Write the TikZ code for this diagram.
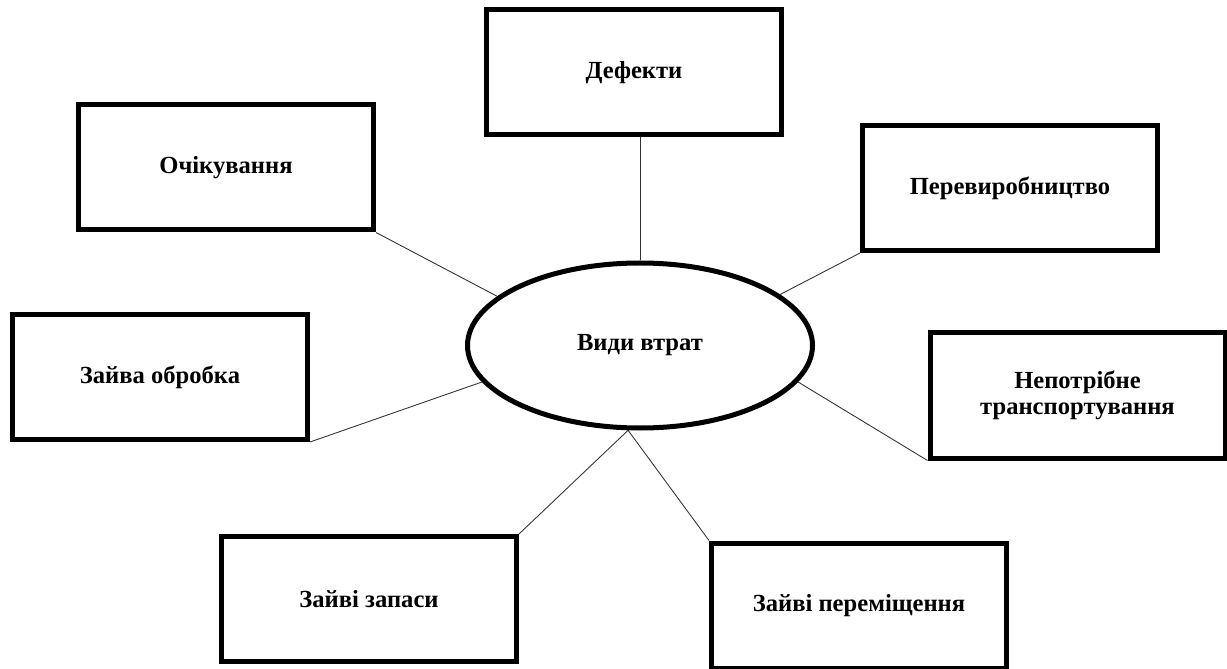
\documentclass[tikz,border=0pt]{standalone}
\usepackage{fontspec}
\setmainfont{Liberation Serif}
\usetikzlibrary{shapes.geometric, positioning}
\tikzset{
    kind/.style={rectangle, draw=black, line width=0.1cm, minimum width=5.9cm, minimum height=2.5cm, inner sep=2pt, align=center, font=\bfseries\fontsize{14}{14.5}\selectfont},
    losses/.style={ellipse, draw=black, line width=0.1cm, minimum width=6.9cm, minimum height=3.3cm, inner sep=0pt, font=\bfseries\fontsize{14}{14.5}\selectfont},
    link/.style={draw=black!80, line width=0.5pt},
}

\begin{document}
\begin{tikzpicture}
    \useasboundingbox (0,0) rectangle (24.54,13.36);
    \node[losses] (wastes) at (12.8,6.45) {Види втрат};
    \node[kind] (defects) at (12.68,11.91) {Дефекти};
    \node[kind] (waiting) at (4.52,10.01) {Очікування};
    \node[kind] (overprod) at (20.2,9.6) {Перевиробництво};
    \node[kind] (processing) at (3.2,5.82) {Зайва обробка};
    \node[kind] (transport) at (21.55,5.45) {Непотрібне\\транспортування};
    \node[kind] (inventory) at (7.38,1.38) {Зайві запаси};
    \node[kind] (motion) at (17.18,1.25) {Зайві переміщення};
    % connectors to the centre
    \draw[link] (wastes.north) -- (wastes.north |- defects.south);
    \draw[link] (waiting.south east) -- (wastes.161);
    \draw[link] (overprod.south west) -- (wastes.20);
    \draw[link] (processing.south east) -- (wastes.193);
    \draw[link] (transport.south west) -- (wastes.347);
    \draw[link] (inventory.north east) -- (wastes.262);
    \draw[link] (motion.north west) -- (wastes.262);
\end{tikzpicture}
\end{document}
